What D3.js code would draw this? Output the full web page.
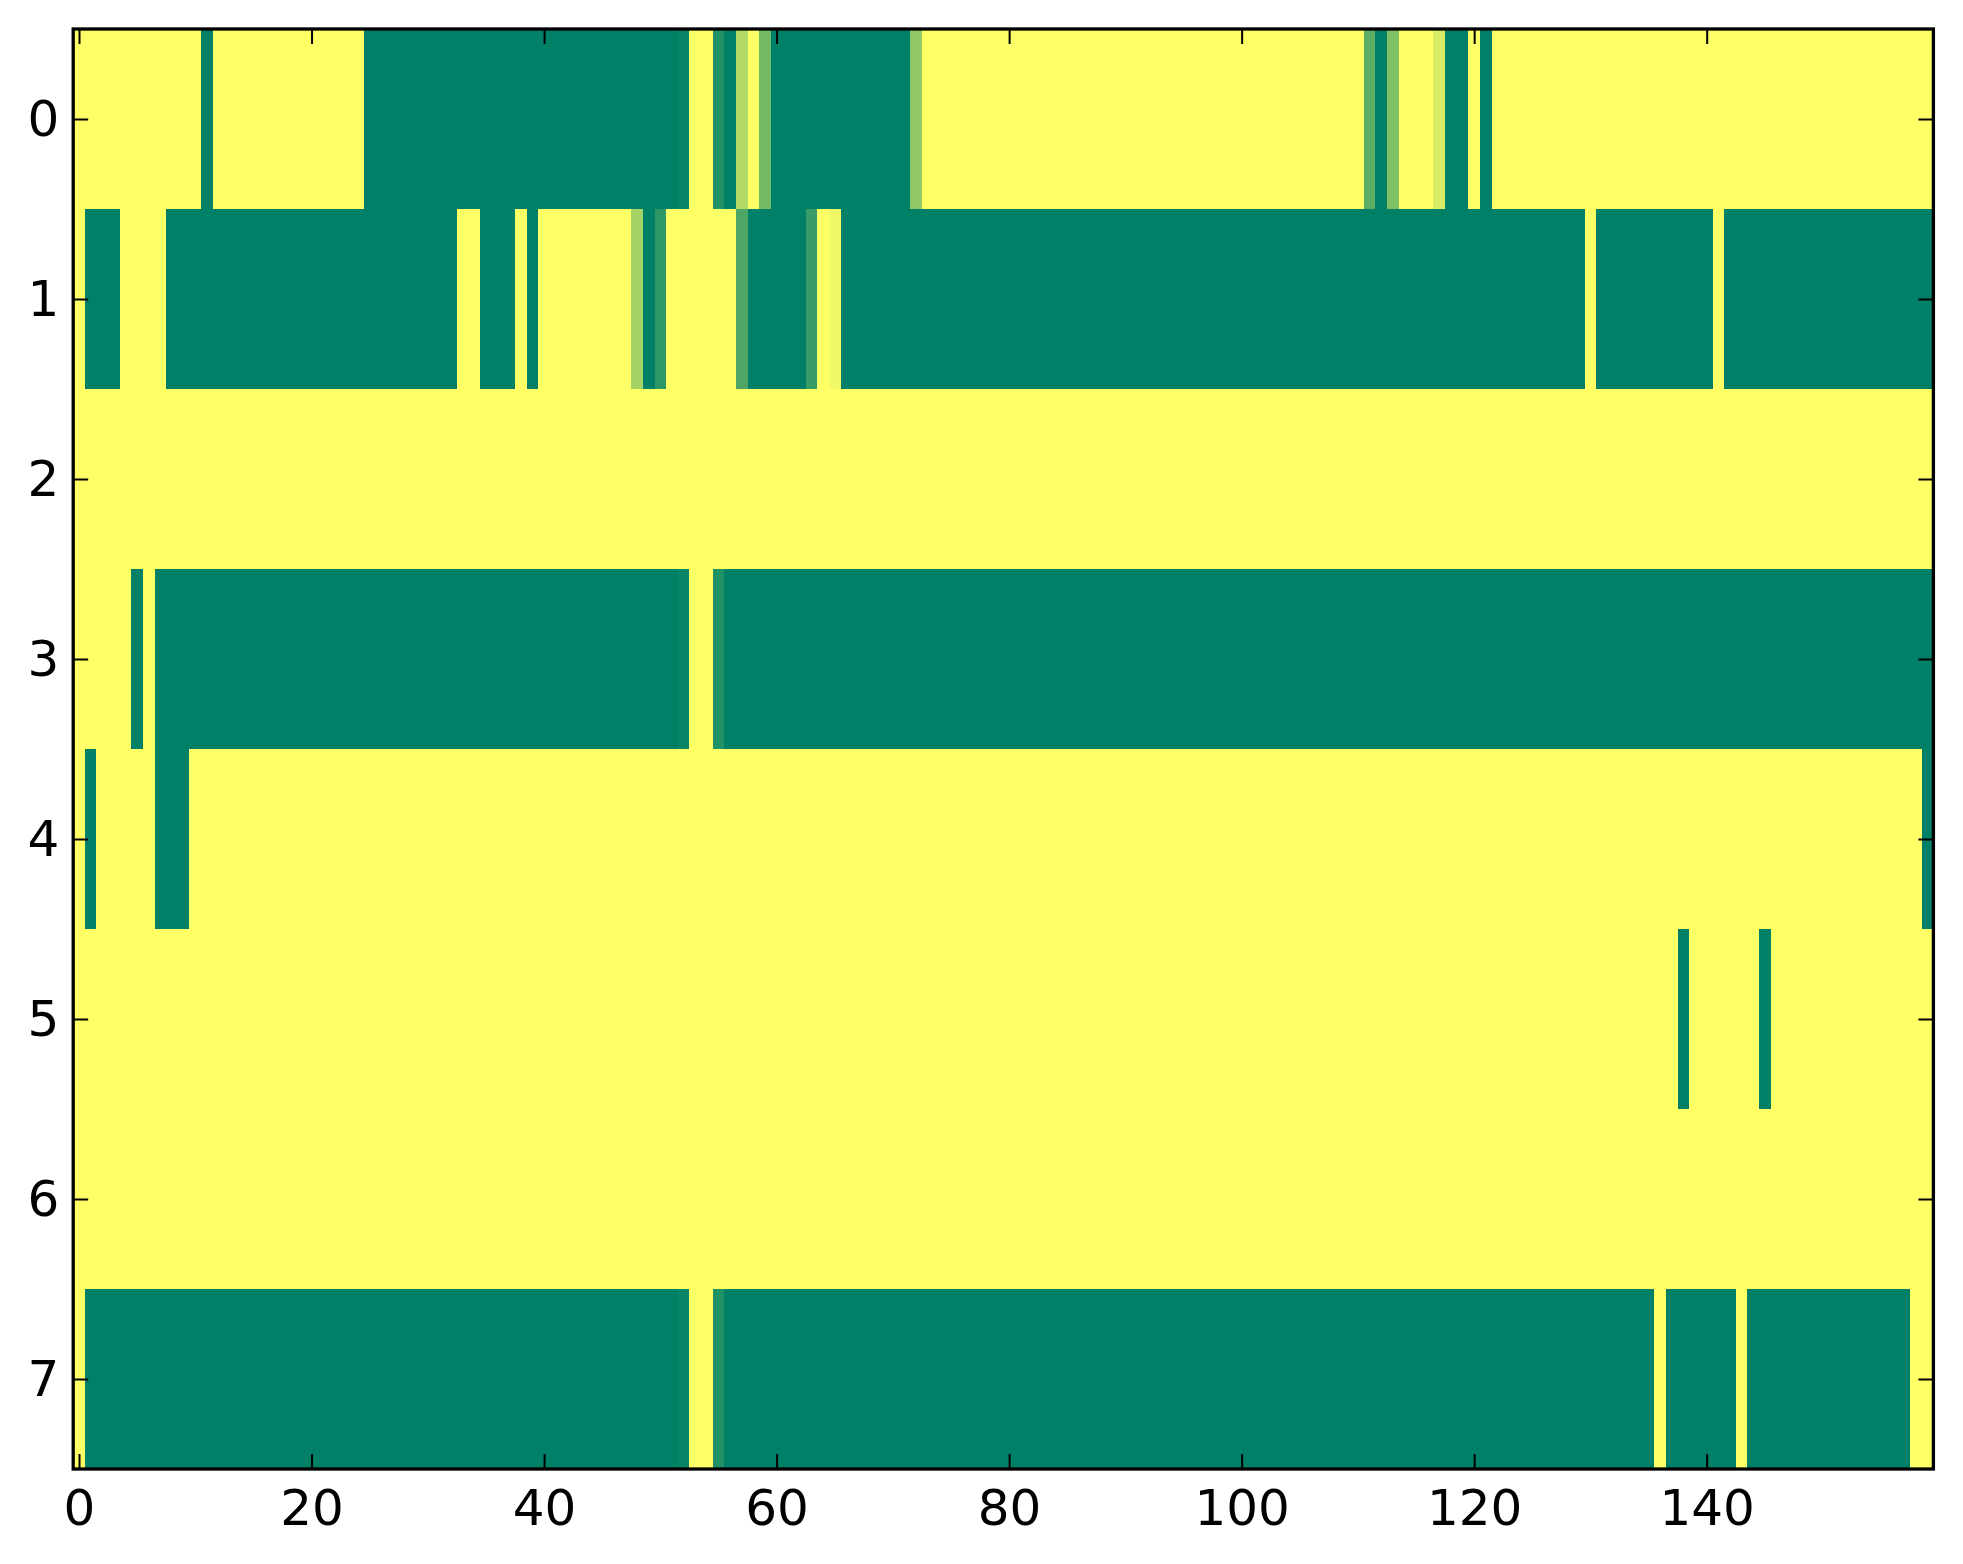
<!DOCTYPE html>
<html>
<head>
<meta charset="utf-8">
<script src="https://cdn.jsdelivr.net/npm/d3@7"></script>
<style>
  body { margin: 0; background: #fff; }
  text { font-family: "DejaVu Sans", sans-serif; }
</style>
</head>
<body>
<div id="heatmap"></div>
<script>
// Each row is a list of runs: [value, how many cells in a row have it]
const row0 = [[1, 11], [0, 1], [1, 13], [0, 27], [0.03, 1], [1, 2], [0.13, 1], [0, 1], [0.7, 1], [1, 1],
              [0.45, 1], [0, 12], [0.57, 1], [1, 38], [0.36, 1], [0, 1], [0.5, 1], [1, 3], [0.85, 1],
              [0, 2], [1, 1], [0, 1], [1, 38]];
const row1 = [[1, 1], [0, 3], [1, 4], [0, 25], [1, 2], [0, 3], [1, 1], [0, 1], [1, 8], [0.65, 1], [0, 1],
              [0.18, 1], [1, 6], [0.3, 1], [0, 5], [0.22, 1], [1, 1], [0.95, 1], [0, 64], [1, 1], [0, 10],
              [1, 1], [0, 18]];
const row2 = [[1, 160]];
const row3 = [[1, 5], [0, 1], [1, 1], [0, 45], [0.03, 1], [1, 2], [0.13, 1], [0, 104]];
const row4 = [[1, 1], [0, 1], [1, 5], [0, 3], [1, 149], [0, 1]];
const row5 = [[1, 138], [0, 1], [1, 6], [0, 1], [1, 14]];
const row6 = [[1, 160]];
const row7 = [[1, 1], [0, 51], [0.03, 1], [1, 2], [0.13, 1], [0, 80], [1, 1], [0, 6], [1, 1], [0, 14], [1, 2]];

const rows = [row0, row1, row2, row3, row4, row5, row6, row7];
const xTicks = [0, 20, 40, 60, 80, 100, 120, 140];
const yTicks = [0, 1, 2, 3, 4, 5, 6, 7];

// Unroll the runs into one cell per column
const cells = [];
rows.forEach(function(runs, r) {
    let c = 0;
    runs.forEach(function(run) {
        for (let k = 0; k < run[1]; k++) {
            cells.push({ row: r, col: c, value: run[0] });
            c++;
        }
    });
});
const nCols = d3.max(cells, d => d.col) + 1;

const width = 1963, height = 1564;
const plot = { left: 73.2, right: 1933.4, top: 29, bottom: 1469 };

const svg = d3.select("#heatmap").append("svg")
              .attr("width", width)
              .attr("height", height);

svg.append("rect")
   .attr("width", width)
   .attr("height", height)
   .attr("fill", "#fff");

// Scales (image style: cell centres on integers)
const xScale = d3.scaleLinear()
                 .domain([-0.5, nCols - 0.5])
                 .range([plot.left, plot.right]);

const yScale = d3.scaleLinear()
                 .domain([-0.5, rows.length - 0.5])
                 .range([plot.top, plot.bottom]);

// matplotlib "summer" colormap
const color = d3.scaleLinear()
                .domain([0, 1])
                .range(["rgb(0,128,102)", "rgb(255,255,102)"]);

// Cells
svg.append("g")
   .selectAll("rect")
   .data(cells)
   .join("rect")
   .attr("x", d => xScale(d.col - 0.5))
   .attr("y", d => yScale(d.row - 0.5))
   .attr("width", d => xScale(d.col + 0.5) - xScale(d.col - 0.5) + 0.4)
   .attr("height", d => yScale(d.row + 0.5) - yScale(d.row - 0.5) + 0.4)
   .attr("fill", d => color(d.value))
   .attr("shape-rendering", "crispEdges");

// Axes, ticks pointing inwards on all four sides
const tickLen = 15;

const xAxis = svg.append("g")
                 .attr("transform", `translate(0,${plot.bottom})`)
                 .call(d3.axisBottom(xScale).tickValues(xTicks).tickSize(-tickLen).tickPadding(20));

const xAxisTop = svg.append("g")
                    .attr("transform", `translate(0,${plot.top})`)
                    .call(d3.axisTop(xScale).tickValues(xTicks).tickSize(-tickLen).tickFormat(""));

const yAxis = svg.append("g")
                 .attr("transform", `translate(${plot.left},0)`)
                 .call(d3.axisLeft(yScale).tickValues(yTicks).tickSize(-tickLen).tickPadding(14));

const yAxisRight = svg.append("g")
                      .attr("transform", `translate(${plot.right},0)`)
                      .call(d3.axisRight(yScale).tickValues(yTicks).tickSize(-tickLen).tickFormat(""));

[xAxis, xAxisTop, yAxis, yAxisRight].forEach(function(g) {
    g.select(".domain").remove();
    g.selectAll(".tick line").attr("stroke", "#000").attr("stroke-width", 2);
    g.selectAll(".tick text")
     .attr("fill", "#000")
     .style("font-size", "50px")
     .style("font-family", "DejaVu Sans, sans-serif");
});

// Frame
svg.append("rect")
   .attr("x", plot.left)
   .attr("y", plot.top)
   .attr("width", plot.right - plot.left)
   .attr("height", plot.bottom - plot.top)
   .attr("fill", "none")
   .attr("stroke", "#000")
   .attr("stroke-width", 3.3);
</script>
</body>
</html>
